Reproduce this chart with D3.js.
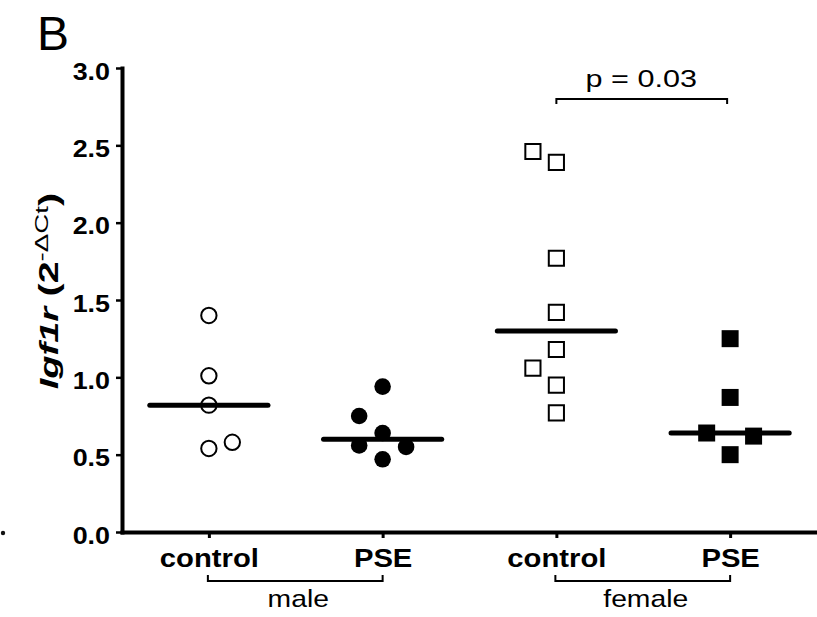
<!DOCTYPE html>
<meta charset="utf-8">
<html>
<head>
  <title>Igf1r expression</title>
  <style>
    body { margin: 0; background: #fff; }
    svg { display: block; font-family: "Liberation Sans", Arial, sans-serif; }
  </style>
</head>
<body>
<div id="chart"></div>
<script src="https://d3js.org/d3.v7.min.js"></script>
<script>

// data
var categories = ["maleControl", "malePSE", "femaleControl", "femalePSE"];
var tickLabels = ["control", "PSE", "control", "PSE"];
var sexLabels = ["male", "female"];
var yTicks = [0, 0.5, 1.0, 1.5, 2.0, 2.5, 3.0];

var maleControl = [1.40, 1.01, 0.82, 0.54, 0.58];
var maleControlCol = [0, 0, 0, 0, 1];
var malePSE = [0.94, 0.75, 0.64, 0.56, 0.55, 0.47];
var malePSECol = [0, -1, 0, -1, 1, 0];
var femaleControl = [2.46, 2.39, 1.77, 1.42, 1.18, 1.06, 0.95, 0.77];
var femaleControlCol = [-1, 0, 0, 0, 0, -1, 0, 0];
var femalePSE = [1.25, 0.87, 0.64, 0.62, 0.50];
var femalePSECol = [0, 0, -1, 1, 0];

var pText = "p = 0.03";
var pLevel = 2.8;

var width = 817, height = 617;

var svg = d3.select("#chart").append("svg")
    .attr("width", width)
    .attr("height", height);

var x = d3.scalePoint()
    .domain(categories)
    .range([122, 817])
    .padding(0.5);

var y = d3.scaleLinear()
    .domain([0, 3])
    .range([532, 68]);

var step = x.step();
var jit = step * 0.135;

/*
   panel letter
*/
svg.append("text")
    .attr("x", 37)
    .attr("y", 50)
    .style("font-size", "48px")
    .text("B");

// stray mark at the left edge of the scan
svg.append("circle")
    .attr("cx", 3).attr("cy", 533).attr("r", 2.2)
    .style("fill", "#111");

/*
   axes
*/
var yAxis = d3.axisLeft(y)
    .tickValues(yTicks)
    .tickFormat(d3.format(".1f"))
    .tickSize(6)
    .tickSizeOuter(0);

var gy = svg.append("g")
    .attr("transform", "translate(122,0)")
    .call(yAxis);

gy.select(".domain")
    .style("stroke", "#000")
    .style("stroke-width", 4)
    .style("stroke-linecap", "square");
gy.selectAll(".tick line")
    .style("stroke", "#000")
    .style("stroke-width", 2.5);
gy.selectAll(".tick text")
    .attr("x", 0)
    .attr("dy", "0.46em")
    .attr("transform", "translate(-12,0) scale(1.12,1)")
    .style("font-family", "Liberation Sans, Arial, sans-serif")
    .style("font-size", "24px")
    .style("font-weight", "bold")
    .style("fill", "#000");

var xAxis = d3.axisBottom(x)
    .tickFormat(function(d, i) { return tickLabels[i]; })
    .tickSize(6)
    .tickSizeOuter(0);

var gx = svg.append("g")
    .attr("transform", "translate(0," + y(0) + ")")
    .call(xAxis);

gx.select(".domain")
    .style("stroke", "#000")
    .style("stroke-width", 4)
    .style("stroke-linecap", "square");
gx.selectAll(".tick line")
    .style("stroke", "#000")
    .style("stroke-width", 3);
gx.selectAll(".tick text")
    .attr("y", 0)
    .attr("dy", 0)
    .attr("transform", "translate(0,35) scale(1.17,1)")
    .style("font-family", "Liberation Sans, Arial, sans-serif")
    .style("font-size", "25px")
    .style("font-weight", "bold")
    .style("fill", "#000");

/*
   y axis title  Igf1r (2^-ΔCt)
*/
var ytitle = svg.append("text")
    .attr("transform", "translate(58,291) rotate(-90) scale(1.46,1)")
    .attr("text-anchor", "middle")
    .style("font-size", "26px");
ytitle.append("tspan")
    .style("font-weight", "bold")
    .style("font-style", "italic")
    .text("Igf1r ");
ytitle.append("tspan")
    .style("font-weight", "bold")
    .style("font-size", "27px")
    .text("(2");
ytitle.append("tspan")
    .attr("dy", -10)
    .style("font-size", "19px")
    .text("-\u0394Ct");
ytitle.append("tspan")
    .attr("dy", 10)
    .style("font-weight", "bold")
    .style("font-size", "27px")
    .text(")");

/*
   points
*/
var groups = [
  { key: "maleControl", vals: maleControl, cols: maleControlCol, shape: d3.symbolCircle, size: 185, filled: false },
  { key: "malePSE", vals: malePSE, cols: malePSECol, shape: d3.symbolCircle, size: 216, filled: true },
  { key: "femaleControl", vals: femaleControl, cols: femaleControlCol, shape: d3.symbolSquare, size: 230, filled: false },
  { key: "femalePSE", vals: femalePSE, cols: femalePSECol, shape: d3.symbolSquare, size: 289, filled: true }
];

groups.forEach(function(g) {
  var pts = g.vals.map(function(v, i) { return { v: v, c: g.cols[i] }; });

  svg.append("g").selectAll("path")
      .data(pts)
    .enter().append("path")
      .attr("transform", function(d) {
        return "translate(" + (x(g.key) + d.c * jit) + "," + y(d.v) + ")";
      })
      .attr("d", d3.symbol().type(g.shape).size(g.size))
      .style("fill", g.filled ? "#000" : "#fff")
      .style("stroke", "#000")
      .style("stroke-width", g.filled ? 0 : 2);

  // median line
  var med = d3.median(g.vals);
  svg.append("line")
      .attr("x1", x(g.key) - step * 0.34)
      .attr("x2", x(g.key) + step * 0.34)
      .attr("y1", y(med))
      .attr("y2", y(med))
      .style("stroke", "#000")
      .style("stroke-width", 5)
      .style("stroke-linecap", "round");
});

/*
   significance bracket
*/
var py = y(pLevel);
svg.append("path")
    .attr("d", "M" + x("femaleControl") + "," + (py + 5) + "V" + py +
               "H" + (x("femalePSE") - 3) + "V" + (py + 5))
    .style("fill", "none")
    .style("stroke", "#000")
    .style("stroke-width", 2);
svg.append("text")
    .attr("transform", "translate(" + ((x("femaleControl") + x("femalePSE")) / 2 - 2) + "," + (py - 12) + ") scale(1.33,1)")
    .attr("text-anchor", "middle")
    .style("font-size", "23px")
    .text(pText);

/*
   sex brackets under the axis
*/
var pairs = [["maleControl", "malePSE"], ["femaleControl", "femalePSE"]];
var by = y(0) + 49;
pairs.forEach(function(p, i) {
  var x1 = x(p[0]) - 1, x2 = x(p[1]);
  svg.append("path")
      .attr("d", "M" + x1 + "," + (by - 6) + "V" + by + "H" + x2 + "V" + (by - 6))
      .style("fill", "none")
      .style("stroke", "#000")
      .style("stroke-width", 2);
  svg.append("text")
      .attr("transform", "translate(" + ((x1 + x2) / 2 + 3) + "," + (by + 26) + ") scale(1.18,1)")
      .attr("text-anchor", "middle")
      .style("font-size", "24px")
      .text(sexLabels[i]);
});

</script>
</body>
</html>
